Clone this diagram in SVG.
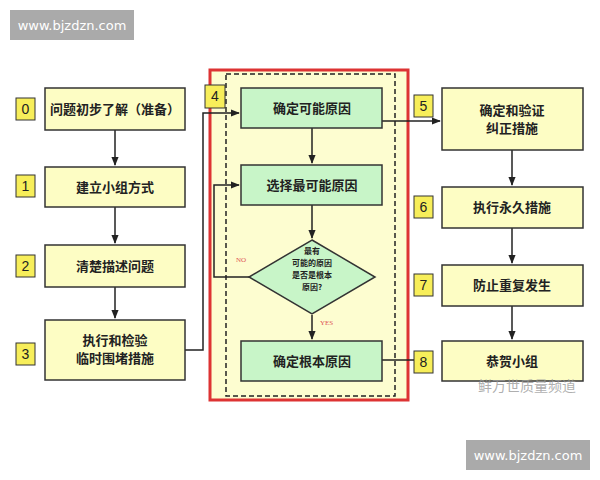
<svg xmlns="http://www.w3.org/2000/svg" width="600" height="480" viewBox="0 0 600 480">
<defs>
<style>
.y{fill:#fdfdc4;stroke:#333;stroke-width:1.5}
.g{fill:#c8f5c8;stroke:#333;stroke-width:1.5}
.n{fill:#f7ee5a;stroke:#333;stroke-width:1}
.t{font-family:"Noto Sans CJK SC",sans-serif;font-size:13px;font-weight:bold;fill:#222;text-anchor:middle}
.nt{font-family:"Liberation Sans",sans-serif;font-size:14px;fill:#222;text-anchor:middle}
.c{fill:none;stroke:#222;stroke-width:1.5}
.w{font-family:"DejaVu Sans",sans-serif;font-size:13px;fill:#fff;text-anchor:middle}
</style>
<marker id="a" viewBox="0 0 10 10" refX="9" refY="5" markerWidth="6" markerHeight="6" orient="auto"><path d="M0,1 L10,5 L0,9 z" fill="#222"/></marker>
</defs>
<rect x="10" y="10" width="124" height="30" fill="#aaa"/><text class="w" x="72" y="30">www.bjzdzn.com</text>
<rect x="466" y="440" width="124" height="30" fill="#aaa"/><text class="w" x="528" y="460">www.bjzdzn.com</text>
<rect x="210" y="70" width="198" height="330" fill="#fdfdd0" stroke="#d33" stroke-width="3"/>
<rect x="226" y="74" width="169" height="322" fill="none" stroke="#222" stroke-width="1.5" stroke-dasharray="5,3"/>
<g id="connectors">
<path class="c" d="M115,130 V165" marker-end="url(#a)"/>
<path class="c" d="M115,207 V243" marker-end="url(#a)"/>
<path class="c" d="M115,287 V318" marker-end="url(#a)"/>
<path class="c" d="M185,350 H203 V113 H239" marker-end="url(#a)"/>
<path class="c" d="M312,128 V163" marker-end="url(#a)"/>
<path class="c" d="M312,205 V238" marker-end="url(#a)"/>
<path class="c" d="M249,277 H214 V185 H239" marker-end="url(#a)"/>
<path class="c" d="M312,315 V339" marker-end="url(#a)"/>
<path class="c" d="M382,121 H440" marker-end="url(#a)"/>
<path class="c" d="M382,360 H414"/>
<path class="c" d="M512,150 V185" marker-end="url(#a)"/>
<path class="c" d="M512,228 V263" marker-end="url(#a)"/>
<path class="c" d="M512,306 V339" marker-end="url(#a)"/>
<text x="236" y="262" font-family="Liberation Serif,serif" font-size="7" fill="#d55">NO</text>
<text x="320" y="325" font-family="Liberation Serif,serif" font-size="7" fill="#d55">YES</text>
</g>
<g id="n0"><rect class="n" x="16" y="98" width="19" height="22"/><text class="nt" x="25.5" y="114">0</text><rect class="y" x="45" y="88" width="140" height="42"/><text class="t" x="115" y="114">问题初步了解（准备）</text></g>
<g id="n1"><rect class="n" x="16" y="175" width="19" height="22"/><text class="nt" x="25.5" y="191">1</text><rect class="y" x="45" y="167" width="140" height="40"/><text class="t" x="115" y="192">建立小组方式</text></g>
<g id="n2"><rect class="n" x="16" y="255" width="19" height="22"/><text class="nt" x="25.5" y="271">2</text><rect class="y" x="45" y="245" width="140" height="42"/><text class="t" x="115" y="271">清楚描述问题</text></g>
<g id="n3"><rect class="n" x="16" y="343" width="19" height="22"/><text class="nt" x="25.5" y="359">3</text><rect class="y" x="45" y="320" width="140" height="60"/><text class="t" x="115" y="345">执行和检验</text><text class="t" x="115" y="363">临时围堵措施</text></g>
<g id="n4"><rect class="n" x="205" y="85" width="20" height="23"/><text class="nt" x="215" y="101">4</text></g>
<g id="nA"><rect class="g" x="241" y="88" width="141" height="40"/><text class="t" x="312" y="113">确定可能原因</text></g>
<g id="nB"><rect class="g" x="241" y="165" width="141" height="40"/><text class="t" x="312" y="190">选择最可能原因</text></g>
<g id="nC"><polygon class="g" points="312,240 375,277 312,314 249,277"/>
<text class="t" font-size="8" x="312" y="254" style="font-size:8px">最有</text><text class="t" x="312" y="266" style="font-size:8px">可能的原因</text><text class="t" x="312" y="278" style="font-size:8px">是否是根本</text><text class="t" x="312" y="290" style="font-size:8px">原因?</text></g>
<g id="nD"><rect class="g" x="241" y="341" width="141" height="40"/><text class="t" x="312" y="366">确定根本原因</text></g>
<g id="n5"><rect class="n" x="414" y="95" width="19" height="22"/><text class="nt" x="423.5" y="111">5</text><rect class="y" x="442" y="88" width="141" height="62"/><text class="t" x="512" y="115">确定和验证</text><text class="t" x="512" y="133">纠正措施</text></g>
<g id="n6"><rect class="n" x="414" y="196" width="19" height="22"/><text class="nt" x="423.5" y="212">6</text><rect class="y" x="442" y="187" width="141" height="41"/><text class="t" x="512" y="212">执行永久措施</text></g>
<g id="n7"><rect class="n" x="414" y="274" width="19" height="22"/><text class="nt" x="423.5" y="290">7</text><rect class="y" x="442" y="265" width="141" height="41"/><text class="t" x="512" y="290">防止重复发生</text></g>
<g id="n8"><rect class="n" x="414" y="351" width="19" height="22"/><text class="nt" x="423.5" y="367">8</text><rect class="y" x="442" y="341" width="141" height="40"/><text class="t" x="512" y="366">恭贺小组</text></g>
<text x="478" y="391" font-family="Noto Sans CJK SC,sans-serif" font-size="14" fill="#999" fill-opacity="0.8">鲜万世质量频道</text>
</svg>
